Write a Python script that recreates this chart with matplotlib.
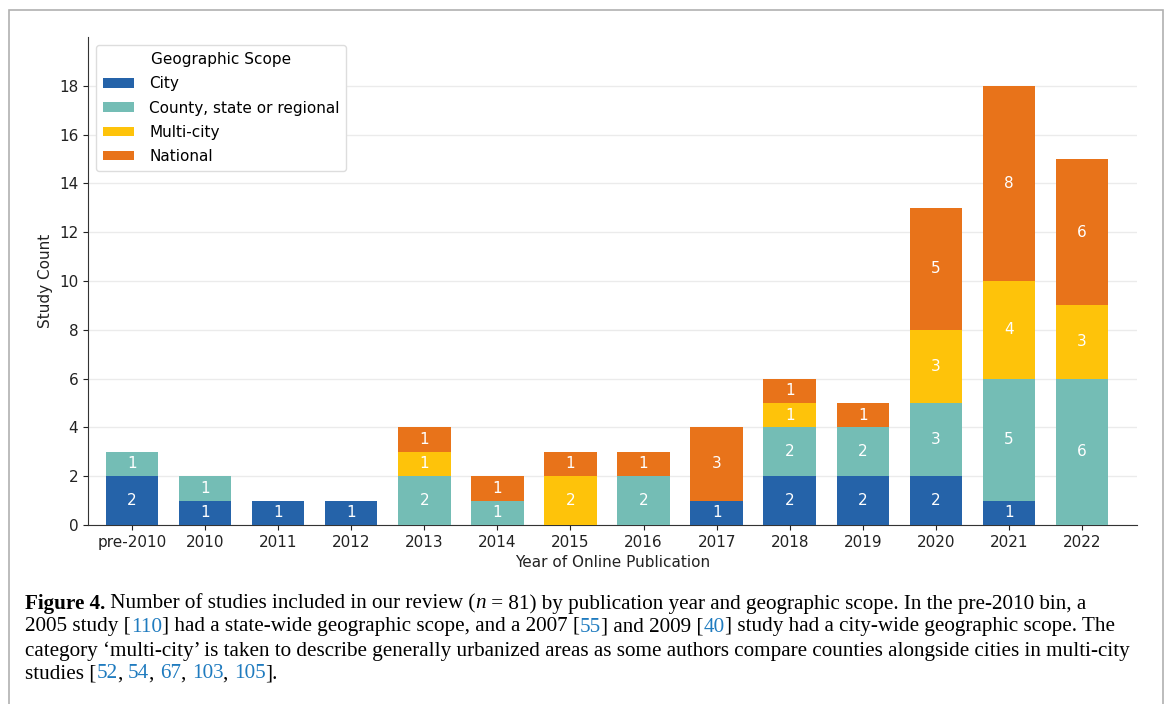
import numpy as np
import matplotlib
matplotlib.use("Agg")
from matplotlib import pyplot as plt
from matplotlib.patches import Rectangle

# Studies per year, by geographic scope
years = ['pre-2010', '2010', '2011', '2012', '2013', '2014', '2015',
         '2016', '2017', '2018', '2019', '2020', '2021', '2022']
city = [2, 1, 1, 1, 0, 0, 0, 0, 1, 2, 2, 2, 1, 0]
county = [1, 1, 0, 0, 2, 1, 0, 2, 0, 2, 2, 3, 5, 6]
multi_city = [0, 0, 0, 0, 1, 0, 2, 0, 0, 1, 0, 3, 4, 3]
national = [0, 0, 0, 0, 1, 1, 1, 1, 3, 1, 1, 5, 8, 6]

series = [('City', city, '#2563a9'),
          ('County, state or regional', county, '#74bdb5'),
          ('Multi-city', multi_city, '#fec30a'),
          ('National', national, '#e8731a')]

W, H = 1168, 704
fig = plt.figure(figsize=(W / 100, H / 100), dpi=100)
fig.patch.set_facecolor('white')

# outer frame of the figure panel
fig.patches.append(Rectangle((9 / W, -0.01), (1163 - 9) / W, (H - 10) / H + 0.01,
                             transform=fig.transFigure, fill=False,
                             edgecolor='#b0b0b0', linewidth=1.2))

ax = fig.add_axes([88 / W, 1 - 525 / H, (1137 - 88) / W, (525 - 37) / H])
x = np.arange(len(years))
bottom = np.zeros(len(years))
for name, vals, col in series:
    vals = np.array(vals, dtype=float)
    ax.bar(x, vals, 0.72, bottom=bottom, color=col, label=name, zorder=3)
    for xi, v, b in zip(x, vals, bottom):
        if v > 0:
            ax.text(xi, b + v / 2, '%d' % v, ha='center', va='center',
                    color='white', fontsize=11, zorder=4)
    bottom += vals

ax.set_xlim(-0.6, 13.75)
ax.set_ylim(0, 20)
ax.set_yticks(range(0, 19, 2))
ax.set_xticks(x)
ax.set_xticklabels(years)
ax.tick_params(labelsize=11, colors='#222222')
ax.yaxis.grid(True, color='#ebebeb', linewidth=1, zorder=0)
for s in ['top', 'right']:
    ax.spines[s].set_visible(False)
ax.spines['left'].set_color('#333333')
ax.spines['bottom'].set_color('#333333')
ax.set_xlabel('Year of Online Publication', fontsize=11, color='#222222')
ax.set_ylabel('Study Count', fontsize=11, color='#222222')
leg = ax.legend(title='Geographic Scope', loc='upper left', fontsize=11,
                title_fontsize=11, bbox_to_anchor=(0.0, 1.0), borderaxespad=0.55,
                handlelength=2.0, handleheight=0.6, framealpha=1,
                edgecolor='#dddddd', borderpad=0.45, labelspacing=0.6,
                handletextpad=1.0)

# caption with coloured citation numbers
blue = '#1f7bbf'
caption = [
    [('Figure 4.', 'k', 'bold', 'normal'),
     (' Number of studies included in our review (', 'k', 'normal', 'normal'),
     ('n', 'k', 'normal', 'italic'),
     (' = 81) by publication year and geographic scope. In the pre-2010 bin, a', 'k', 'normal', 'normal')],
    [('2005 study [', 'k', 'normal', 'normal'), ('110', blue, 'normal', 'normal'),
     ('] had a state-wide geographic scope, and a 2007 [', 'k', 'normal', 'normal'),
     ('55', blue, 'normal', 'normal'), ('] and 2009 [', 'k', 'normal', 'normal'),
     ('40', blue, 'normal', 'normal'),
     ('] study had a city-wide geographic scope. The', 'k', 'normal', 'normal')],
    [('category \u2018multi-city\u2019 is taken to describe generally urbanized areas as some authors compare counties alongside cities in multi-city', 'k', 'normal', 'normal')],
    [('studies [', 'k', 'normal', 'normal'), ('52', blue, 'normal', 'normal'),
     (', ', 'k', 'normal', 'normal'), ('54', blue, 'normal', 'normal'),
     (', ', 'k', 'normal', 'normal'), ('67', blue, 'normal', 'normal'),
     (', ', 'k', 'normal', 'normal'), ('103', blue, 'normal', 'normal'),
     (', ', 'k', 'normal', 'normal'), ('105', blue, 'normal', 'normal'),
     ('].', 'k', 'normal', 'normal')],
]
renderer = fig.canvas.get_renderer()
line_y = [604, 627, 651, 674]
for parts, yy in zip(caption, line_y):
    xpos = 25
    for txt, col, wt, st in parts:
        t = fig.text(xpos / W, 1 - yy / H, txt, color=col, fontweight=wt,
                     fontstyle=st, family='Liberation Serif', fontsize=15.2,
                     va='center', ha='left')
        bb = t.get_window_extent(renderer)
        xpos += bb.width

fig.savefig('out.png', dpi=100)
